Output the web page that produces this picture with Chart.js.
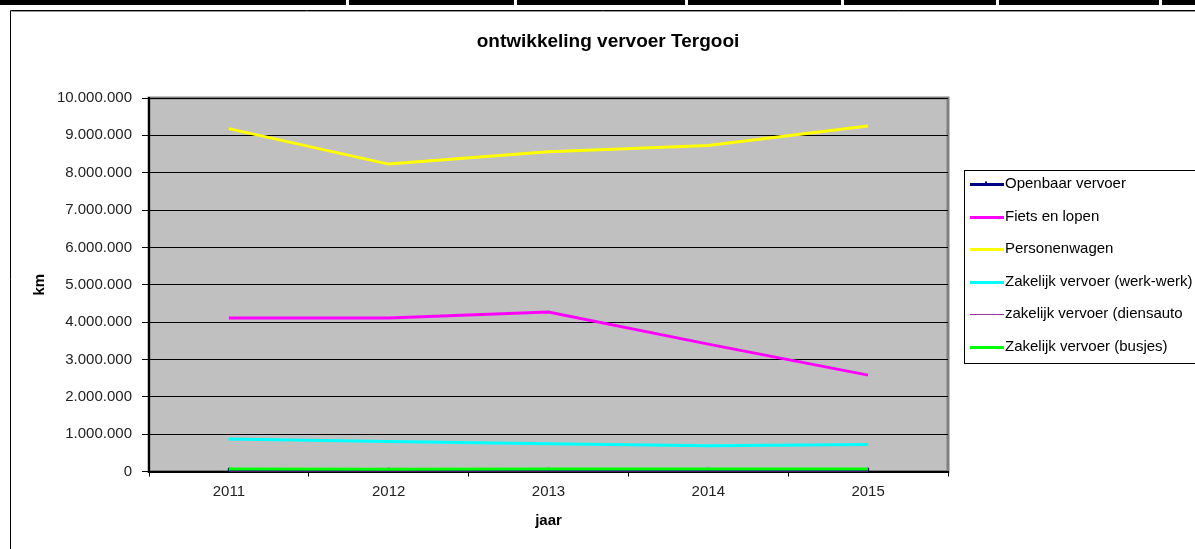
<!DOCTYPE html>
<html>
<head>
<meta charset="utf-8">
<title>ontwikkeling vervoer Tergooi</title>
<script src="https://cdn.jsdelivr.net/npm/chart.js@4.4.1/dist/chart.umd.min.js"></script>
<style>
  html, body { margin: 0; padding: 0; background: #fff; }
  #wrap { width: 1195px; height: 549px; }
</style>
</head>
<body>
<div id="wrap"><canvas id="chart" width="1195" height="549"></canvas></div>
<script>
// ---- data (km per jaar) ----
const YEARS = ["2011", "2012", "2013", "2014", "2015"];
const OPENBAAR = [20000, 20000, 20000, 20000, 20000];
const FIETS = [4110000, 4110000, 4270000, 3410000, 2580000];
const PERSONENWAGEN = [9180000, 8230000, 8560000, 8730000, 9250000];
const WERK_WERK = [870000, 800000, 740000, 690000, 720000];
const DIENSAUTO = [0, 0, 0, 0, 0];
const BUSJES = [70000, 60000, 70000, 70000, 70000];

const SERIES_LABELS = [
    "Openbaar vervoer",
    "Fiets en lopen",
    "Personenwagen",
    "Zakelijk vervoer (werk-werk)",
    "zakelijk vervoer (diensauto",
    "Zakelijk vervoer (busjes)",
];
const SERIES_VALUES = [OPENBAAR, FIETS, PERSONENWAGEN, WERK_WERK, DIENSAUTO, BUSJES];
const SERIES_COLORS = ["#000080", "#FF00FF", "#FFFF00", "#00FFFF", "#993399", "#00FF00"];
const SERIES_WIDTHS = [3, 3, 3, 3, 1, 3];

const Y_MIN = 0;
const Y_MAX = 10000000;
const Y_STEP = 1000000;

const FONT = "'Liberation Sans', Arial, sans-serif";
const PLOT_BG = "#C0C0C0";
const PLOT_BORDER = "#808080";

function dotted(v) {
    return String(v).replace(/\B(?=(\d{3})+(?!\d))/g, ".");
}

// sheet strip, chart frame, plot background and title
const sheetPlugin = {
    id: "sheet",
    beforeDraw(chart) {
        const ctx = chart.ctx;
        const a = chart.chartArea;
        ctx.save();
        ctx.fillStyle = "#fff";
        ctx.fillRect(0, 0, chart.width, chart.height);

        // bit of the worksheet above the chart
        ctx.fillStyle = "#000";
        ctx.fillRect(0, 0, chart.width, 5);
        ctx.fillStyle = "#fff";
        [347, 515, 686, 842, 997, 1160].forEach((x) => ctx.fillRect(x - 1, 0, 3, 5));

        // chart object frame
        ctx.strokeStyle = "#000";
        ctx.lineWidth = 1;
        ctx.beginPath();
        ctx.moveTo(10.5, chart.height);
        ctx.lineTo(10.5, 10.5);
        ctx.lineTo(chart.width, 10.5);
        ctx.stroke();
        ctx.strokeStyle = "#999";
        ctx.beginPath();
        ctx.moveTo(11.5, 11.5);
        ctx.lineTo(chart.width, 11.5);
        ctx.stroke();

        // plot area
        ctx.fillStyle = PLOT_BG;
        ctx.fillRect(a.left, a.top, a.right - a.left, a.bottom - a.top);
        ctx.strokeStyle = PLOT_BORDER;
        ctx.lineWidth = 3;
        ctx.strokeRect(a.left, a.top, a.right - a.left, a.bottom - a.top);

        // title
        ctx.fillStyle = "#000";
        ctx.font = "bold 19px " + FONT;
        ctx.textAlign = "center";
        ctx.textBaseline = "middle";
        ctx.fillText("ontwikkeling vervoer Tergooi", 608, 42);
        ctx.restore();
    },
};

// Excel style legend box on the right
const legendPlugin = {
    id: "sheetLegend",
    afterDraw(chart) {
        const ctx = chart.ctx;
        const boxX = 964.5, boxY = 170.5, rowY = 184, rowGap = 32.5;
        ctx.save();
        ctx.strokeStyle = "#000";
        ctx.lineWidth = 1;
        ctx.strokeRect(boxX, boxY, 260, 193);
        ctx.font = "15px " + FONT;
        ctx.textBaseline = "middle";
        ctx.textAlign = "left";
        chart.data.datasets.forEach((ds, i) => {
            const y = Math.round(rowY + i * rowGap) + (ds.borderWidth % 2 ? 0.5 : 0);
            ctx.strokeStyle = ds.borderColor;
            ctx.lineWidth = ds.borderWidth;
            ctx.beginPath();
            ctx.moveTo(970, y);
            ctx.lineTo(1004, y);
            ctx.stroke();
            if (ds.pointRadius > 0) {
                ctx.fillStyle = ds.borderColor;
                ctx.fillRect(985, y - 3, 2, 3);
            }
            ctx.fillStyle = "#000";
            ctx.fillText(ds.label, 1005, rowY + i * rowGap);
        });
        ctx.restore();
    },
};

const datasets = SERIES_LABELS.map((label, i) => ({
    label: label,
    data: SERIES_VALUES[i],
    borderColor: SERIES_COLORS[i],
    backgroundColor: SERIES_COLORS[i],
    borderWidth: SERIES_WIDTHS[i],
    tension: 0,
    fill: false,
    pointRadius: i === 0 ? 3 : 0,
    pointStyle: "line",
    rotation: 90,
    pointBorderWidth: 2,
    order: SERIES_LABELS.length - i,
}));

new Chart(document.getElementById("chart"), {
    type: "line",
    data: { labels: YEARS, datasets: datasets },
    options: {
        responsive: false,
        animation: false,
        devicePixelRatio: 1,
        layout: { padding: { left: 10, top: 98, right: 247, bottom: 10 } },
        plugins: {
            legend: { display: false },
            title: { display: false },
            tooltip: { enabled: false },
        },
        scales: {
            x: {
                type: "category",
                offset: true,
                grid: {
                    offset: true,
                    drawOnChartArea: false,
                    drawTicks: true,
                    tickLength: 5,
                    color: "#000",
                    lineWidth: 1,
                },
                border: { color: "#000", width: 2 },
                ticks: { color: "#222", padding: 6, font: { family: FONT, size: 15 } },
                title: {
                    display: true,
                    text: "jaar",
                    color: "#000",
                    padding: { top: 0, bottom: 9 },
                    font: { family: FONT, size: 15, weight: "bold" },
                },
                afterFit(scale) { scale.height = 67.5; },
            },
            y: {
                min: Y_MIN,
                max: Y_MAX,
                grid: { color: "#000", lineWidth: 1, tickLength: 7 },
                border: { color: "#000", width: 2 },
                ticks: {
                    stepSize: Y_STEP,
                    padding: 10,
                    color: "#222",
                    font: { family: FONT, size: 15 },
                    callback: (v) => dotted(v),
                },
                title: {
                    display: true,
                    text: "km",
                    color: "#000",
                    padding: { top: 21, bottom: 0 },
                    font: { family: FONT, size: 15, weight: "bold" },
                },
                afterFit(scale) { scale.width = 139; },
            },
        },
    },
    plugins: [sheetPlugin, legendPlugin],
});
</script>
</body>
</html>
